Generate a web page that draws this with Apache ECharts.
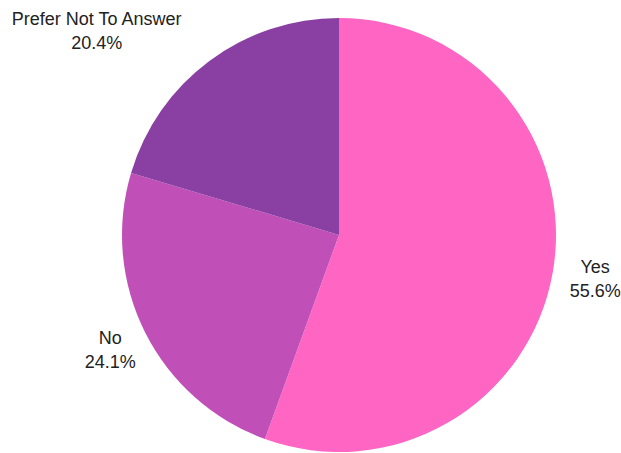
<!DOCTYPE html>
<html><head><meta charset="utf-8">
<script src="https://cdn.jsdelivr.net/npm/echarts@6/dist/echarts.min.js"></script>
<style>html,body{margin:0;padding:0;background:#fff}#c{width:621px;height:453px}</style>
</head><body><div id="c"></div>
<script>
const categories = ['Yes', 'No', 'Prefer Not To Answer'];
const values = [55.6, 24.1, 20.4];
const colors = ['#FF66C4', '#C04FB8', '#8A3FA3'];
const labelShift = [0, 4, -85];

const chart = echarts.init(document.getElementById('c'), null, {renderer: 'svg'});
chart.setOption({
  animation: false,
  backgroundColor: '#fff',
  series: [{
    type: 'pie',
    left: -300, right: -300, top: 0, bottom: 0,
    center: [639, 235],
    radius: 217,
    startAngle: 90,
    clockwise: true,
    data: categories.map((c, i) => ({name: c, value: values[i], itemStyle: {color: colors[i]}})),
    label: {
      show: true,
      position: 'outside',
      formatter: p => p.name + '\n' + p.value.toFixed(1) + '%',
      fontFamily: 'Liberation Sans, Arial, sans-serif',
      fontSize: 18,
      lineHeight: 24,
      color: '#222',
      align: 'center',
      overflow: 'none'
    },
    labelLine: {show: false, length: 38, length2: 0},
    labelLayout: p => ({align: 'center', verticalAlign: 'middle', dx: labelShift[p.dataIndex]}),
    itemStyle: {borderWidth: 0}
  }]
});
</script></body></html>
